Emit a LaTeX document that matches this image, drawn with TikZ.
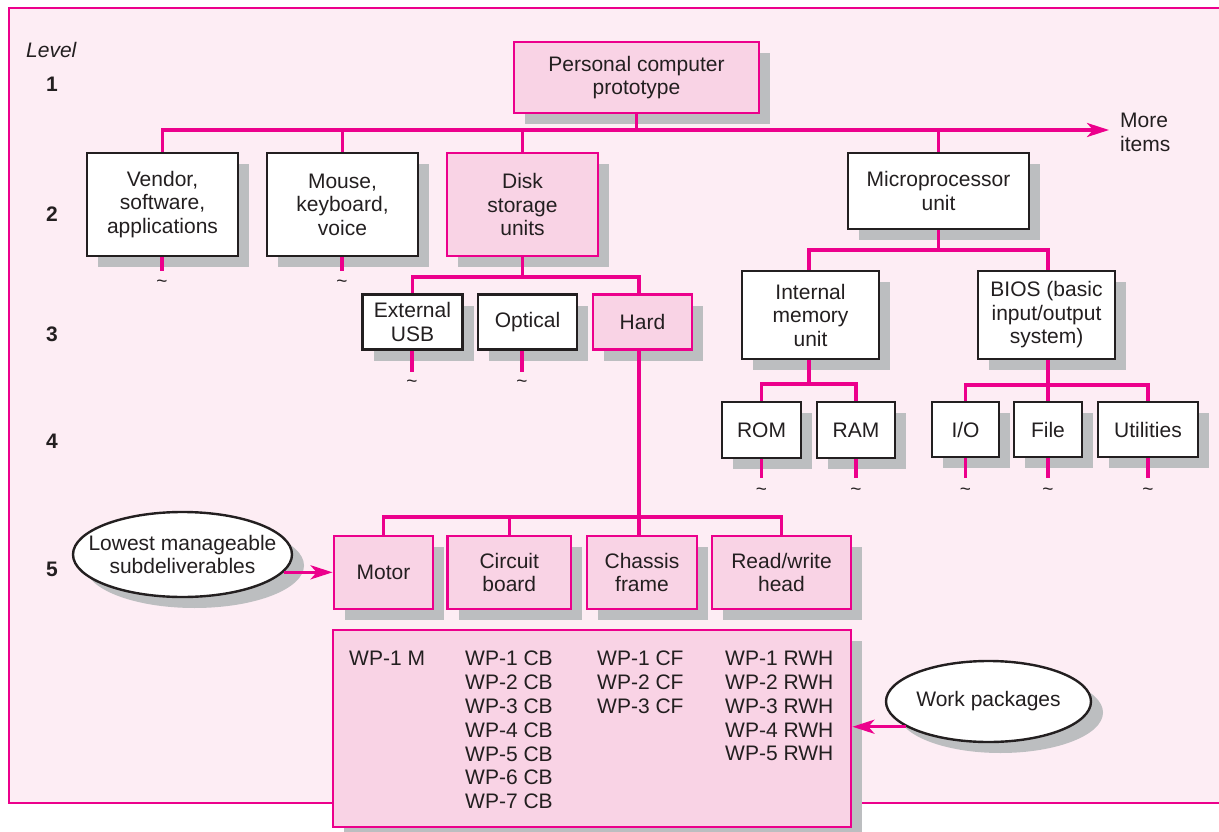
\documentclass[tikz,border=0pt]{standalone}
\usepackage{fontspec}
\setmainfont{Liberation Sans}
\usetikzlibrary{shapes.geometric,shadows,arrows.meta}
\definecolor{mag}{HTML}{EC008C}
\definecolor{bgpink}{HTML}{FDEDF4}
\definecolor{boxpink}{HTML}{F9D3E5}
\definecolor{shgray}{HTML}{BCBEC0}
\definecolor{ink}{HTML}{231F20}
\begin{document}
\begin{tikzpicture}[x=1pt,y=-1pt,
  font=\fontsize{21}{23.5}\selectfont, text=ink,
  shd/.style={drop shadow={shadow xshift=11pt,shadow yshift=-11pt,fill=shgray,opacity=1}},
  wbox/.style={shd, rectangle, draw=ink, fill=white, line width=2.6pt, inner sep=0pt, align=center},
  pbox/.style={shd, rectangle, draw=mag, fill=boxpink, line width=2.8pt, inner sep=0pt, align=center},
  oval/.style={ellipse, draw=ink, fill=white, line width=2.4pt, inner ysep=0pt, align=center,
    drop shadow={shadow xshift=12pt,shadow yshift=-11pt,fill=shgray,opacity=1}},
  conn/.style={draw=mag, line width=3.3pt},
  tip/.style={-{Stealth[length=22pt,width=14pt,inset=6pt]}},
  tld/.style={inner sep=0pt, font=\fontsize{19}{19}\selectfont},
  lvnum/.style={inner sep=0pt, font=\fontsize{21}{23.5}\selectfont\bfseries},
  wptext/.style={anchor=north west, align=left, inner sep=0pt, font=\fontsize{21}{23.8}\selectfont}
]
\useasboundingbox (0,0) rectangle (1219,832);
\clip (0,0) rectangle (1219,832);
% frame
\draw[draw=mag, fill=bgpink, line width=2.3pt] (9,8) rectangle (1240,803);

% level labels
\node[anchor=west, inner sep=0pt, font=\fontsize{21}{23.5}\selectfont\itshape] (lvl) at (26,49.5) {Level};
\node[lvnum] (l1) at (52,84.5) {1};
\node[lvnum] (l2) at (52,214.5) {2};
\node[lvnum] (l3) at (52,334) {3};
\node[lvnum] (l4) at (52,441) {4};
\node[lvnum] (l5) at (52,569.5) {5};

% level 1
\node[pbox, minimum width=245pt, minimum height=71pt] (root) at (636.5,77.5) {Personal computer\\prototype};
% level 2
\node[wbox, minimum width=151pt, minimum height=103pt] (vendor) at (162.5,204.5) {Vendor,\\software,\\applications};
\node[wbox, minimum width=151pt, minimum height=103pt] (mouse) at (342.5,204.5) {Mouse,\\keyboard,\\voice};
\node[pbox, minimum width=151pt, minimum height=103pt] (disk) at (522.5,204.5) {Disk\\storage\\units};
\node[wbox, minimum width=181pt, minimum height=76pt] (micro) at (938.5,191) {Microprocessor\\unit};
% level 3
\node[wbox, minimum width=100pt, minimum height=55pt] (usb) at (412.5,322) {External\\USB};
\node[wbox, minimum width=99pt, minimum height=55pt] (optical) at (527.5,322) {Optical};
\node[pbox, minimum width=99pt, minimum height=55pt] (hard) at (642.5,322) {Hard};
\node[wbox, minimum width=137pt, minimum height=88pt] (internal) at (810.5,315) {Internal\\memory\\unit};
\node[wbox, minimum width=137pt, minimum height=88pt] (bios) at (1046.5,315) {BIOS (basic\\input/output\\system)};
% level 4
\node[wbox, minimum width=79pt, minimum height=56pt] (rom) at (761.5,430) {ROM};
\node[wbox, minimum width=78pt, minimum height=56pt] (ram) at (856,430) {RAM};
\node[wbox, minimum width=67pt, minimum height=55pt] (io) at (965.5,429.5) {I/O};
\node[wbox, minimum width=68pt, minimum height=55pt] (file) at (1048,429.5) {File};
\node[wbox, minimum width=100pt, minimum height=55pt] (util) at (1148,429.5) {Utilities};
% level 5
\node[pbox, minimum width=99pt, minimum height=73pt] (motor) at (383.5,572.5) {Motor};
\node[pbox, minimum width=123.5pt, minimum height=73pt] (circuit) at (509.25,572.5) {Circuit\\board};
\node[pbox, minimum width=110pt, minimum height=73pt] (chassis) at (642,572.5) {Chassis\\frame};
\node[pbox, minimum width=139pt, minimum height=73pt] (rwh) at (781.5,572.5) {Read/write\\head};
% work package box
\node[pbox, minimum width=518pt, minimum height=197pt] (wpbox) at (592,728.5) {};
% callouts
\node[oval, inner xsep=-17pt, minimum width=219pt, minimum height=85pt] (low) at (182.5,554.5) {Lowest manageable\\subdeliverables};
\node[oval, inner xsep=0pt, minimum width=205pt, minimum height=81pt] (wpk) at (988.5,701.5) {Work packages};

% connectors level 1 -> 2
\coordinate (rb) at (636.5,130);
\coordinate (more) at (1109,130);
\draw[conn] (root.south) -- (rb);
\draw[conn,tip] (vendor.north) |- (more);
\draw[conn] (mouse.north) -- (mouse.north |- rb);
\draw[conn] (disk.north) -- (disk.north |- rb);
\draw[conn] (micro.north) -- (micro.north |- rb);
\node[anchor=north west, align=left, inner sep=0pt] (moretxt) at (1120,113) {More\\items};

% disk -> level 3
\coordinate (dkb) at (522.5,277);
\draw[conn] (disk.south) -- (dkb);
\draw[conn] (usb.north) |- (dkb) -| ([xshift=-3.5pt]hard.north);
% hard -> level 5
\coordinate (hb) at (639,517);
\draw[conn] ([xshift=-3.5pt]hard.south) -- ([xshift=-3pt]chassis.north);
\draw[conn] (motor.north) |- (hb) -| (rwh.north);
\draw[conn] (circuit.north) -- (circuit.north |- hb);
% micro -> level 3
\coordinate (mb) at (938.5,250);
\draw[conn] (micro.south) -- (mb);
\draw[conn] ([xshift=-1.5pt]internal.north) |- (mb) -| ([xshift=1.5pt]bios.north);
% internal -> level 4
\coordinate (ib) at (810.5,384);
\draw[conn] ([xshift=-1.5pt]internal.south) -- ([xshift=-1.5pt]ib);
\draw[conn] (rom.north) |- (ib) -| (ram.north);
% bios -> level 4
\coordinate (bb) at (1048,385);
\draw[conn] ([xshift=1.5pt]bios.south) -- (bb);
\draw[conn] (io.north) |- (bb) -| (util.north);
\draw[conn] (file.north) -- (file.north |- bb);

% stubs and tildes
\draw[conn] ([xshift=-0.5pt]vendor.south) -- ++(0,14);
\draw[conn] ([xshift=-0.5pt]mouse.south) -- ++(0,14);
\draw[conn] ([xshift=-0.5pt]usb.south) -- ++(0,21);
\draw[conn] ([xshift=-5.5pt]optical.south) -- ++(0,21);
\draw[conn] (rom.south) -- ++(0,19);
\draw[conn] (ram.south) -- ++(0,19);
\draw[conn] (io.south) -- ++(0,20);
\draw[conn] (file.south) -- ++(0,20);
\draw[conn] (util.south) -- ++(0,20);
\node[tld] (t1) at (162,284) {\textasciitilde};
\node[tld] (t2) at (342,284) {\textasciitilde};
\node[tld] (t3) at (412,384) {\textasciitilde};
\node[tld] (t4) at (522,384) {\textasciitilde};
\node[tld] (t5) at (761.5,492) {\textasciitilde};
\node[tld] (t6) at (856,492) {\textasciitilde};
\node[tld] (t7) at (965.5,492) {\textasciitilde};
\node[tld] (t8) at (1048,492) {\textasciitilde};
\node[tld] (t9) at (1148,492) {\textasciitilde};

% callout arrows
\draw[conn,tip] (low.-10) -- (low.-10 -| motor.west);
\draw[conn,tip] (wpk.197) -- (wpk.197 -| wpbox.east);

% work packages
\node[wptext] (c1) at (349,651) {WP-1 M};
\node[wptext] (c2) at (465,651) {WP-1 CB\\WP-2 CB\\WP-3 CB\\WP-4 CB\\WP-5 CB\\WP-6 CB\\WP-7 CB};
\node[wptext] (c3) at (597,651) {WP-1 CF\\WP-2 CF\\WP-3 CF};
\node[wptext] (c4) at (725,651) {WP-1 RWH\\WP-2 RWH\\WP-3 RWH\\WP-4 RWH\\WP-5 RWH};
\end{tikzpicture}
\end{document}
